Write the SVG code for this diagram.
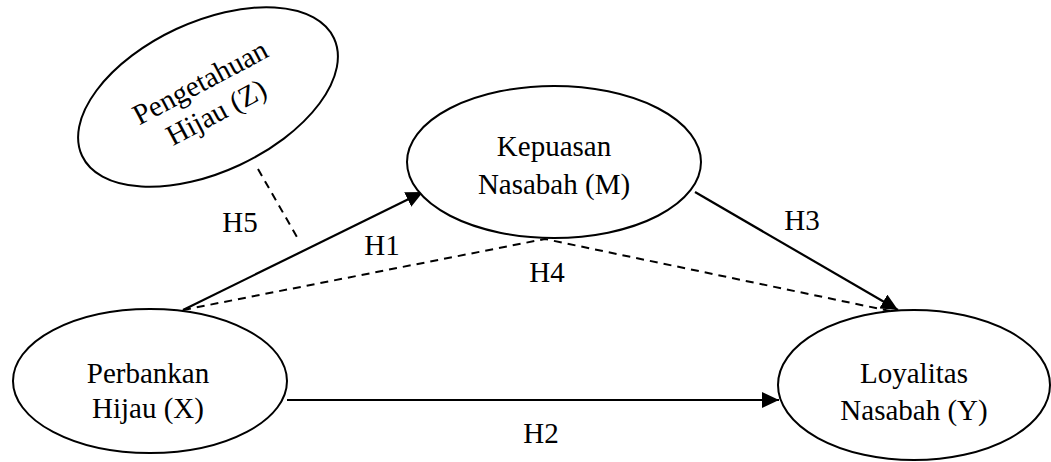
<svg xmlns="http://www.w3.org/2000/svg" width="1051" height="462" viewBox="0 0 1051 462">
<defs>
<style>
.node ellipse{fill:#fff;stroke:#000;stroke-width:2}
text{font-family:"Liberation Serif","Times New Roman",serif;font-size:29px;fill:#000;text-anchor:middle}
.solid{stroke:#000;stroke-width:2.2;fill:none}
.dash{stroke:#000;stroke-width:2;fill:none;stroke-dasharray:8 6}
</style>
<marker id="arr" markerUnits="userSpaceOnUse" markerWidth="18" markerHeight="16" refX="17" refY="8" orient="auto">
<path d="M0,0 L17,8 L0,16 Z" fill="#000"/>
</marker>
</defs>
<g id="connectors">
<line class="solid" x1="183" y1="310" x2="423" y2="192" marker-end="url(#arr)"/>
<polyline class="dash" points="183,310 545,239 890,311"/>
<line class="solid" x1="695" y1="192" x2="898" y2="310" marker-end="url(#arr)"/>
<line class="solid" x1="287" y1="400" x2="779" y2="400" marker-end="url(#arr)"/>
<line class="dash" x1="258" y1="169" x2="297" y2="237"/>
<text x="240" y="232">H5</text>
<text x="382" y="255">H1</text>
<text x="547" y="282">H4</text>
<text x="802" y="230">H3</text>
<text x="541" y="443">H2</text>
</g>
<g id="node-z" class="node" transform="translate(208,97)">
<ellipse cx="0" cy="0" rx="139" ry="75" transform="rotate(-25)"/>
<g transform="rotate(-28)">
<text x="0" y="-7">Pengetahuan</text>
<text x="0" y="27">Hijau (Z)</text>
</g>
</g>
<g id="node-m" class="node">
<ellipse cx="554" cy="162" rx="147" ry="76"/>
<text x="554" y="156">Kepuasan</text>
<text x="554" y="194">Nasabah (M)</text>
</g>
<g id="node-x" class="node">
<ellipse cx="150" cy="381" rx="137" ry="72"/>
<text x="148" y="383">Perbankan</text>
<text x="148" y="418">Hijau (X)</text>
</g>
<g id="node-y" class="node">
<ellipse cx="914" cy="385" rx="136" ry="75"/>
<text x="914" y="383">Loyalitas</text>
<text x="914" y="420">Nasabah (Y)</text>
</g>
</svg>
